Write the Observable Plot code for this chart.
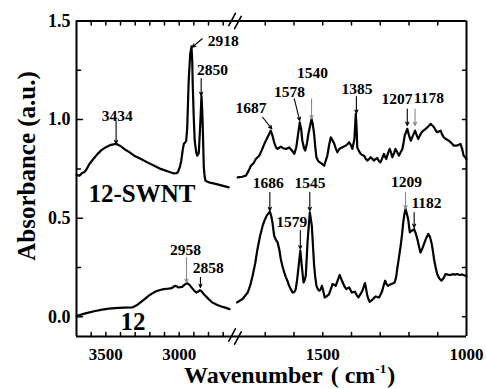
<!DOCTYPE html>
<html>
<head>
<meta charset="utf-8">
<script src="https://cdn.jsdelivr.net/npm/d3@7"></script>
<script src="https://cdn.jsdelivr.net/npm/@observablehq/plot@0.6"></script>
<style>
  html, body { margin: 0; padding: 0; background: #fff; }
  #chart { width: 486px; height: 389px; }
</style>
</head>
<body>
<div id="chart"></div>
<script>
// ---------- axis extents (broken x axis) ----------
const xLeftStart = 3700, xLeftEnd = 2650, xRightStart = 1800, xRightEnd = 1000;
const yMin = -0.1, yMax = 1.5;

// ---------- tick values / labels ----------
const xTicks = [3600, 3500, 3400, 3300, 3200, 3100, 3000, 2900, 2800, 2700, 1700, 1600, 1500, 1400, 1300, 1200, 1100];
const xTickLabels = [3500, 3000, 1500, 1000];
const yMajorTicks = [0, 0.5, 1.0];
const yMinorTicks = [0.25, 0.75, 1.25];
const yRightTicks = [0, 0.25, 0.5, 0.75, 1.0, 1.25];
const yTickLabels = [0, 0.5, 1.0, 1.5];

// ---------- spectra: 12-SWNT ----------
const swntHighWn = [3700, 3680, 3660, 3646, 3630, 3612, 3585, 3556, 3530, 3499, 3465, 3431, 3400, 3375, 3340, 3307, 3260, 3217, 3170, 3126, 3080, 3036, 3020, 3009, 2995, 2986, 2975, 2968, 2958, 2952, 2945, 2935, 2925, 2916, 2911, 2907, 2900, 2894, 2884, 2877, 2870, 2866, 2858, 2855, 2848, 2843, 2839, 2832, 2826, 2821, 2790, 2752, 2700, 2662];
const swntHighAbs = [0.72, 0.715, 0.73, 0.733, 0.75, 0.775, 0.80, 0.826, 0.845, 0.86, 0.872, 0.877, 0.866, 0.851, 0.835, 0.817, 0.80, 0.783, 0.766, 0.75, 0.738, 0.727, 0.728, 0.733, 0.76, 0.79, 0.85, 0.877, 0.885, 0.893, 0.96, 1.20, 1.33, 1.371, 1.30, 1.164, 1.00, 0.893, 0.835, 0.817, 0.825, 0.834, 0.95, 0.995, 1.12, 1.05, 0.96, 0.758, 0.71, 0.69, 0.68, 0.674, 0.664, 0.656];

const swntLowWn = [1796, 1780, 1767, 1758, 1750, 1740, 1733, 1721, 1712, 1703, 1689, 1681, 1675, 1669, 1663, 1657, 1646, 1638, 1628, 1617, 1608, 1599, 1592, 1588, 1580, 1575, 1571, 1565, 1561, 1555, 1550, 1539, 1535, 1530, 1526, 1522, 1516, 1510, 1502, 1495, 1490, 1484, 1478, 1472, 1466, 1460, 1455, 1449, 1443, 1437, 1428, 1420, 1414, 1408, 1402, 1397, 1390, 1385, 1382, 1380, 1374, 1368, 1362, 1356, 1350, 1345, 1339, 1333, 1327, 1322, 1316, 1310, 1305, 1299, 1293, 1287, 1283, 1279, 1273, 1267, 1262, 1258, 1252, 1247, 1241, 1235, 1229, 1223, 1218, 1215, 1206, 1200, 1194, 1186, 1179, 1173, 1168, 1162, 1156, 1149, 1142, 1133, 1125, 1119, 1113, 1107, 1102, 1096, 1090, 1085, 1079, 1070, 1061, 1052, 1044, 1038, 1033, 1027, 1021, 1015, 1010, 1005, 1000];
const swntLowAbs = [0.707, 0.71, 0.716, 0.74, 0.766, 0.78, 0.80, 0.817, 0.845, 0.877, 0.919, 0.944, 0.92, 0.885, 0.86, 0.851, 0.863, 0.855, 0.851, 0.859, 0.845, 0.826, 0.86, 0.902, 0.986, 0.95, 0.893, 0.855, 0.843, 0.88, 0.927, 1.003, 0.98, 0.927, 0.86, 0.809, 0.79, 0.783, 0.775, 0.766, 0.79, 0.817, 0.87, 0.91, 0.895, 0.877, 0.855, 0.834, 0.85, 0.856, 0.862, 0.868, 0.875, 0.885, 0.87, 0.851, 0.90, 1.029, 0.95, 0.859, 0.84, 0.826, 0.82, 0.817, 0.80, 0.792, 0.80, 0.809, 0.80, 0.792, 0.80, 0.805, 0.79, 0.783, 0.805, 0.826, 0.81, 0.80, 0.83, 0.851, 0.83, 0.809, 0.83, 0.851, 0.835, 0.817, 0.835, 0.851, 0.89, 0.919, 0.953, 0.92, 0.893, 0.92, 0.944, 0.92, 0.902, 0.92, 0.936, 0.945, 0.953, 0.965, 0.978, 0.97, 0.961, 0.945, 0.936, 0.94, 0.944, 0.925, 0.91, 0.90, 0.893, 0.88, 0.868, 0.868, 0.868, 0.872, 0.877, 0.85, 0.817, 0.81, 0.80];

// ---------- spectra: 12 ----------
const pureHighWn = [3700, 3695, 3639, 3580, 3525, 3480, 3434, 3380, 3320, 3290, 3264, 3235, 3207, 3180, 3161, 3130, 3105, 3080, 3059, 3045, 3030, 3018, 3007, 2995, 2980, 2965, 2950, 2940, 2930, 2916, 2900, 2884, 2870, 2858, 2845, 2835, 2821, 2800, 2775, 2740, 2707, 2680, 2657];
const pureHighAbs = [0.003, 0.005, 0.017, 0.028, 0.036, 0.041, 0.044, 0.046, 0.047, 0.058, 0.073, 0.09, 0.107, 0.12, 0.128, 0.136, 0.14, 0.142, 0.144, 0.148, 0.157, 0.155, 0.149, 0.15, 0.152, 0.162, 0.169, 0.168, 0.162, 0.149, 0.135, 0.123, 0.128, 0.135, 0.128, 0.117, 0.107, 0.09, 0.073, 0.06, 0.051, 0.045, 0.039];

const pureLowWn = [1798, 1779, 1761, 1752, 1744, 1735, 1727, 1718, 1709, 1702, 1695, 1684, 1679, 1675, 1669, 1663, 1657, 1651, 1646, 1640, 1634, 1628, 1623, 1617, 1611, 1605, 1599, 1594, 1589, 1585, 1578, 1573, 1567, 1563, 1559, 1556, 1553, 1545, 1538, 1534, 1530, 1526, 1522, 1517, 1512, 1507, 1503, 1498, 1493, 1485, 1478, 1472, 1466, 1460, 1455, 1448, 1441, 1435, 1428, 1423, 1418, 1413, 1408, 1403, 1399, 1393, 1388, 1382, 1376, 1369, 1362, 1357, 1353, 1349, 1345, 1340, 1337, 1331, 1325, 1320, 1316, 1310, 1304, 1298, 1293, 1288, 1283, 1278, 1273, 1267, 1261, 1255, 1250, 1245, 1241, 1235, 1229, 1224, 1220, 1216, 1212, 1207, 1203, 1200, 1197, 1193, 1189, 1182, 1176, 1171, 1165, 1160, 1154, 1148, 1140, 1133, 1127, 1122, 1117, 1113, 1108, 1102, 1095, 1087, 1080, 1073, 1065, 1056, 1048, 1040, 1032, 1026, 1021, 1015, 1008, 1000];
const pureLowAbs = [0.073, 0.09, 0.123, 0.16, 0.208, 0.27, 0.344, 0.41, 0.462, 0.49, 0.513, 0.533, 0.51, 0.479, 0.411, 0.39, 0.377, 0.34, 0.293, 0.255, 0.225, 0.20, 0.183, 0.157, 0.14, 0.123, 0.125, 0.14, 0.19, 0.242, 0.335, 0.259, 0.174, 0.185, 0.208, 0.29, 0.377, 0.529, 0.462, 0.36, 0.259, 0.2, 0.157, 0.14, 0.132, 0.14, 0.157, 0.13, 0.098, 0.105, 0.115, 0.14, 0.166, 0.162, 0.157, 0.185, 0.212, 0.19, 0.166, 0.15, 0.14, 0.145, 0.149, 0.135, 0.123, 0.125, 0.127, 0.11, 0.098, 0.115, 0.132, 0.155, 0.171, 0.14, 0.107, 0.085, 0.076, 0.082, 0.09, 0.098, 0.103, 0.1, 0.098, 0.115, 0.132, 0.16, 0.183, 0.165, 0.157, 0.162, 0.166, 0.17, 0.174, 0.2, 0.242, 0.30, 0.36, 0.42, 0.479, 0.52, 0.547, 0.52, 0.496, 0.46, 0.428, 0.435, 0.437, 0.445, 0.42, 0.394, 0.355, 0.326, 0.345, 0.369, 0.40, 0.42, 0.405, 0.377, 0.335, 0.293, 0.255, 0.217, 0.195, 0.183, 0.195, 0.217, 0.214, 0.212, 0.216, 0.214, 0.217, 0.213, 0.212, 0.215, 0.21, 0.207];

// ---------- peak annotations ----------
const peakLabels   = ["3434", "2918", "2850", "1687", "1578", "1540", "1385", "1207", "1178", "2958", "2858", "1686", "1545", "1579", "1209", "1182"];
const peakLabelWn  = [3423, 2700, 2773, 1750, 1616, 1536, 1381, 1242, 1131, 2957, 2802, 1690, 1544, 1608, 1209, 1139];
const peakLabelAbs = [1.02, 1.398, 1.249, 1.058, 1.142, 1.234, 1.157, 1.102, 1.109, 0.340, 0.246, 0.678, 0.678, 0.482, 0.685, 0.579];
const arrowFromWn  = [3430, 2843, 2850, 1709, 1599, 1539, 1383, 1206, 1179, 2950, 2855, 1684, 1545, 1578, 1212, 1182];
const arrowFromAbs = [0.994, 1.41, 1.208, 1.012, 1.105, 1.105, 1.117, 1.054, 1.054, 0.301, 0.2, 0.631, 0.631, 0.437, 0.631, 0.529];
const arrowToWn    = [3430, 2911, 2850, 1677, 1580, 1539, 1383, 1206, 1179, 2950, 2855, 1684, 1545, 1578, 1212, 1182];
const arrowToAbs   = [0.877, 1.367, 1.122, 0.953, 0.995, 1.004, 1.032, 0.970, 0.970, 0.174, 0.149, 0.538, 0.538, 0.344, 0.547, 0.453];
const arrowMuted   = [false, false, false, false, false, true, false, false, true, true, false, false, false, false, true, false];

// ---------- series names ----------
const seriesNames = ["12-SWNT", "12"];
const seriesLabelWn = [3618, 3400];
const seriesLabelAbs = [0.623, -0.029];

// ---------- build tables ----------
const rows = [];
function addSeg(seg, wn, ab) { wn.forEach((w, i) => rows.push({seg, wn: w, abs: ab[i]})); }
addSeg("swnt-high", swntHighWn, swntHighAbs);
addSeg("swnt-low", swntLowWn, swntLowAbs);
addSeg("pure-high", pureHighWn, pureHighAbs);
addSeg("pure-low", pureLowWn, pureLowAbs);

const ann = peakLabels.map((t, i) => ({
  text: t, tx: peakLabelWn[i], ty: peakLabelAbs[i],
  x1: arrowFromWn[i], y1: arrowFromAbs[i], x2: arrowToWn[i], y2: arrowToAbs[i], muted: arrowMuted[i]
}));
const seriesRows = seriesNames.map((n, i) => ({name: n, x: seriesLabelWn[i], y: seriesLabelAbs[i]}));

const tickShape = {draw(c, l) { c.moveTo(0, 0); c.lineTo(0, -l); }};
const slashShape = {draw(c, l) { c.moveTo(-3.3, 0); c.lineTo(-3.3, -l); c.moveTo(3.3, 0); c.lineTo(3.3, -l); }};
const breakMid = (xLeftEnd + xRightStart) / 2;

const serif = "'Liberation Serif', 'Times New Roman', Times, serif";

const chart = Plot.plot({
  width: 486,
  height: 389,
  marginLeft: 76,
  marginRight: 20,
  marginTop: 20,
  marginBottom: 53,
  x: {type: "linear", domain: [xLeftStart, xLeftEnd, xRightStart, xRightEnd], range: [76, 230, 236, 466]},
  y: {domain: [yMin, yMax], range: [336, 20.5]},
  style: {fontFamily: serif, fontWeight: "bold", background: "white", color: "black"},
  marks: [
    // frame
    Plot.ruleX([xLeftStart, xRightEnd], {x: d => d, y1: yMin, y2: yMax, strokeWidth: 2}),
    Plot.ruleY([yMin, yMax], {y: d => d, x1: xLeftStart, x2: xRightEnd, strokeWidth: 2}),
    // inward ticks
    Plot.vector(xTicks, {x: d => d, y: yMin, length: 4, rotate: 0, anchor: "start", shape: tickShape, strokeWidth: 1.5}),
    Plot.vector(xTicks, {x: d => d, y: yMax, length: 4, rotate: 180, anchor: "start", shape: tickShape, strokeWidth: 1.5}),
    Plot.vector(yMajorTicks, {x: xLeftStart, y: d => d, length: 6, rotate: 90, anchor: "start", shape: tickShape, strokeWidth: 1.5}),
    Plot.vector(yMinorTicks, {x: xLeftStart, y: d => d, length: 4, rotate: 90, anchor: "start", shape: tickShape, strokeWidth: 1.5}),
    Plot.vector(yRightTicks, {x: xRightEnd, y: d => d, length: 4, rotate: -90, anchor: "start", shape: tickShape, strokeWidth: 1.5}),
    // axis break marks
    Plot.vector([yMin, yMax], {x: breakMid, y: d => d, length: 14, rotate: 28, anchor: "middle", shape: slashShape, strokeWidth: 1.6, dx: 1.5}),
    // tick labels
    Plot.axisX(xTickLabels, {anchor: "bottom", tickSize: 0, tickPadding: 11, tickFormat: d => `${d}`, fontSize: 17, label: null}),
    Plot.axisY(yTickLabels, {anchor: "left", tickSize: 0, tickPadding: 6, tickFormat: d => d.toFixed(1), fontSize: 18, label: null}),
    // spectra
    Plot.line(rows, {x: "wn", y: "abs", z: "seg", stroke: "black", strokeWidth: 2.2, strokeLinejoin: "round"}),
    // annotations
    Plot.arrow(ann.filter(d => !d.muted), {x1: "x1", y1: "y1", x2: "x2", y2: "y2", stroke: "black", strokeWidth: 1.1, headLength: 5, headAngle: 50}),
    Plot.arrow(ann.filter(d => d.muted), {x1: "x1", y1: "y1", x2: "x2", y2: "y2", stroke: "#8a8a8a", strokeWidth: 1.1, headLength: 5, headAngle: 50}),
    Plot.text(ann, {x: "tx", y: "ty", text: "text", fontSize: 15.5, textAnchor: "middle", lineAnchor: "middle"}),
    Plot.text(seriesRows, {x: "x", y: "y", text: "name", fontSize: 25, textAnchor: "start", lineAnchor: "middle"})
  ]
});

document.getElementById("chart").appendChild(chart);

// axis titles
const svg = d3.select(chart);
const xt = svg.append("text")
  .attr("x", 184).attr("y", 383)
  .attr("text-anchor", "start")
  .attr("font-family", serif).attr("font-weight", "bold").attr("font-size", 24).attr("fill", "black");
xt.append("tspan").text("Wavenumber");
xt.append("tspan").attr("dx", 8).text("(");
xt.append("tspan").attr("dx", 6).text("cm");
xt.append("tspan").attr("font-size", 13).attr("dy", -10).text("-1");
xt.append("tspan").attr("dy", 10).attr("dx", 1).text(")");

svg.append("text")
  .attr("transform", "translate(35,166) rotate(-90)")
  .attr("text-anchor", "middle")
  .attr("font-family", serif).attr("font-weight", "bold").attr("font-size", 25).attr("fill", "black")
  .text("Absorbance (a.u.)");
</script>
</body>
</html>
